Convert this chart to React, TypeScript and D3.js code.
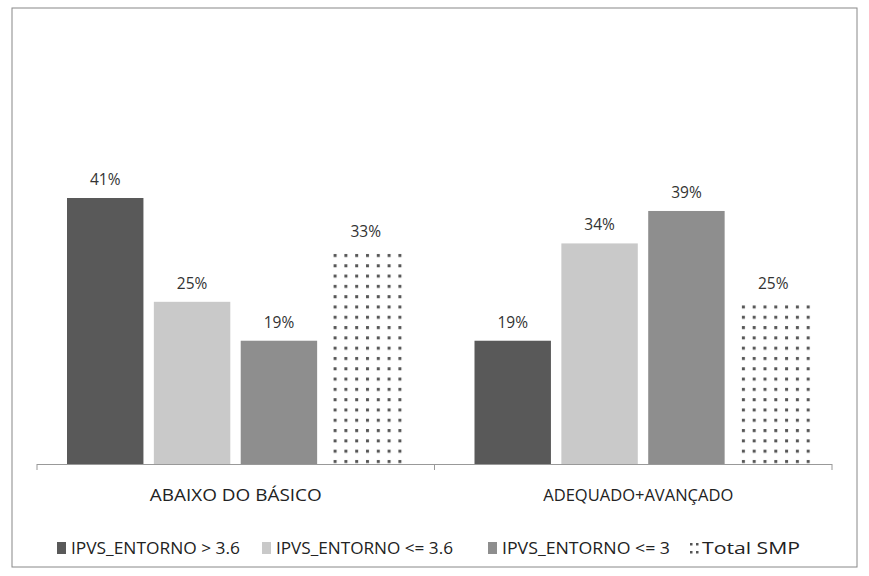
import * as d3 from 'd3';

const categories = ['ABAIXO DO BÁSICO', 'ADEQUADO+AVANÇADO'];
const seriesNames = ['IPVS_ENTORNO > 3.6', 'IPVS_ENTORNO <= 3.6', 'IPVS_ENTORNO <= 3', 'Total SMP'];
const seriesColors = ['#595959', '#c9c9c9', '#8e8e8e', 'url(#dots)'];
const values = [
  [41, 25, 19, 33],
  [19, 34, 39, 25],
];

const W = 869, H = 576;
const font = '"Open Sans", "Noto Sans", sans-serif';

export default function App() {
  const x0 = d3.scaleBand().domain(categories).range([37, 832]);
  const groupShift = [0, 10];
  const x1 = d3.scaleBand().domain(seriesNames).range([30, 367]).paddingInner(0.12);
  const y = d3.scaleLinear().domain([0, 41]).range([464, 198]);
  const legendX = [57, 262, 488, 690];
  const legendLen = [169, 177, 168, 98];
  const catLen = [172, 190];

  return (
    <svg width={W} height={H} style={{ position: 'absolute', left: 0, top: 0, fontFamily: font }}>
      <defs>
        <pattern id="dots" width="10.8" height="10.3" patternUnits="userSpaceOnUse" x="328" y="253">
          <rect x="1" y="1" width="3" height="3" fill="#555" />
        </pattern>
      </defs>
      <rect x={12} y={8} width={845} height={559} fill="#fff" stroke="#888" strokeWidth={1} />
      {categories.map((c, i) => (
        <g key={c} transform={`translate(${x0(c)},0)`}>
          {seriesNames.map((s, j) => {
            const v = values[i][j];
            const bx = x1(s)! + groupShift[i];
            return (
              <g key={s}>
                <rect x={bx} y={y(v)} width={x1.bandwidth()} height={464 - y(v)} fill={seriesColors[j]} />
                <text x={bx + x1.bandwidth() / 2} y={y(v) - 13} textAnchor="middle" fontSize={15.5} fill="#333">{v}%</text>
              </g>
            );
          })}
          <text x={x0.bandwidth() / 2 + groupShift[i] / 2} y={501} textAnchor="middle" fontSize={16} fill="#222"
            textLength={catLen[i]} lengthAdjust="spacingAndGlyphs">{c}</text>
        </g>
      ))}
      <line x1={37} x2={832} y1={464.5} y2={464.5} stroke="#999" />
      {[37, 434.5, 832].map((t) => (
        <line key={t} x1={t} x2={t} y1={464} y2={470} stroke="#999" />
      ))}
      {seriesNames.map((s, j) => (
        <g key={s} transform={`translate(${legendX[j]},540)`}>
          {j < 3 ? (
            <rect x={0} y={2} width={9} height={12} fill={seriesColors[j]} />
          ) : (
            <g fill="#555">
              {[0, 6].map((dx) => [3, 11].map((dy) => <rect key={`${dx}-${dy}`} x={dx} y={dy} width={2.5} height={2.5} />))}
            </g>
          )}
          <text x={j < 3 ? 14 : 12} y={14} fontSize={16} fill="#222"
            textLength={legendLen[j]} lengthAdjust="spacingAndGlyphs">{s}</text>
        </g>
      ))}
    </svg>
  );
}
